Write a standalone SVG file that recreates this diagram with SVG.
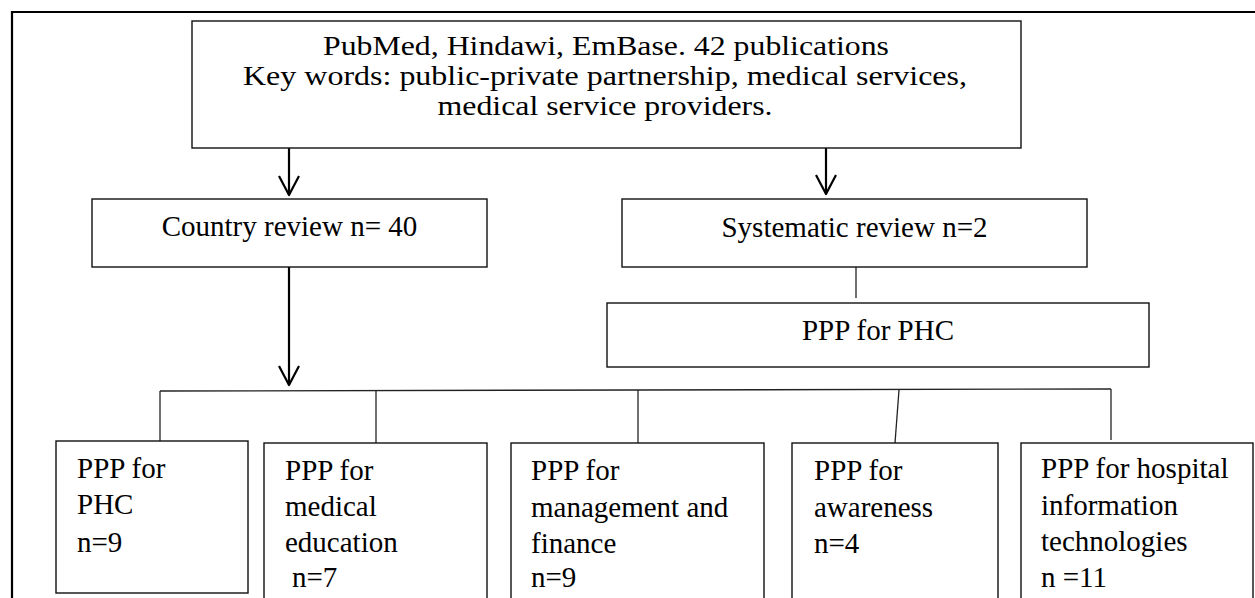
<svg xmlns="http://www.w3.org/2000/svg" width="1255" height="598" viewBox="0 0 1255 598">
  <defs>
    <style>
      .frame { fill: none; stroke: #000; stroke-width: 2.2; }
      .box { fill: #fff; stroke: #111; stroke-width: 1.4; }
      .arrow { fill: none; stroke: #000; stroke-width: 2.2; }
      .link { fill: none; stroke: #222; stroke-width: 1.3; }
      text { font-family: "Liberation Serif", "Times New Roman", serif; fill: #000; }
      .t26 { font-size: 26.5px; }
      .t29 { font-size: 29px; }
      .mid { text-anchor: middle; }
    </style>
    <!-- open V arrowhead; the tip sits on the end of the line -->
    <marker id="vhead" markerUnits="userSpaceOnUse" markerWidth="26" markerHeight="26"
            viewBox="-22 -13 26 26" refX="0" refY="0" orient="auto" overflow="visible">
      <path d="M-19,-10 L0,0 L-19,10" fill="none" stroke="#000" stroke-width="2.2" stroke-linejoin="round"/>
    </marker>
  </defs>

  <!-- outer frame (left and top edges) -->
  <path class="frame" d="M12,598 V12 H1255"/>

  <!-- connectors -->
  <g id="connectors">
    <line class="arrow" x1="289" y1="148" x2="289" y2="195" marker-end="url(#vhead)"/>
    <line class="arrow" x1="826" y1="148" x2="826" y2="194" marker-end="url(#vhead)"/>
    <line class="arrow" x1="289" y1="267" x2="289" y2="385" marker-end="url(#vhead)"/>
    <line class="link" x1="856" y1="267" x2="856" y2="298"/>
    <line class="link" x1="160" y1="391" x2="1111" y2="389"/>
    <line class="link" x1="160" y1="391" x2="160" y2="441"/>
    <line class="link" x1="376" y1="391" x2="376" y2="443"/>
    <line class="link" x1="638" y1="390" x2="638" y2="443"/>
    <line class="link" x1="899" y1="390" x2="895" y2="443"/>
    <line class="link" x1="1111" y1="389" x2="1111" y2="440"/>
  </g>

  <!-- search sources -->
  <g id="sources">
    <rect class="box" x="192" y="21" width="829" height="127"/>
    <text class="t26 mid" x="606" y="55" textLength="566" lengthAdjust="spacingAndGlyphs">PubMed, Hindawi, EmBase. 42 publications</text>
    <text class="t26 mid" x="605" y="85" textLength="724" lengthAdjust="spacingAndGlyphs">Key words: public-private partnership, medical services,</text>
    <text class="t26 mid" x="605" y="115" textLength="335" lengthAdjust="spacingAndGlyphs">medical service providers.</text>
  </g>

  <g id="country-review">
    <rect class="box" x="92" y="199" width="395" height="68"/>
    <text class="t29 mid" x="289.5" y="236">Country review n= 40</text>
  </g>

  <g id="systematic-review">
    <rect class="box" x="622" y="199" width="465" height="68"/>
    <text class="t29 mid" x="854.5" y="237">Systematic review n=2</text>
  </g>

  <g id="sr-phc">
    <rect class="box" x="607" y="303" width="542" height="64"/>
    <text class="t29 mid" x="878" y="340">PPP for PHC</text>
  </g>

  <g id="cr-phc">
    <rect class="box" x="56" y="441" width="192" height="152"/>
    <text class="t29" x="77" y="478">PPP for</text>
    <text class="t29" x="77" y="514">PHC</text>
    <text class="t29" x="77" y="552">n=9</text>
  </g>

  <g id="cr-education">
    <rect class="box" x="264" y="443" width="223" height="160"/>
    <text class="t29" x="285" y="480">PPP for</text>
    <text class="t29" x="285" y="516">medical</text>
    <text class="t29" x="285" y="552">education</text>
    <text class="t29" x="292" y="587">n=7</text>
  </g>

  <g id="cr-management">
    <rect class="box" x="511" y="443" width="253" height="160"/>
    <text class="t29" x="531" y="480">PPP for</text>
    <text class="t29" x="531" y="517">management and</text>
    <text class="t29" x="531" y="553">finance</text>
    <text class="t29" x="531" y="587">n=9</text>
  </g>

  <g id="cr-awareness">
    <rect class="box" x="792" y="443" width="206" height="160"/>
    <text class="t29" x="814" y="480">PPP for</text>
    <text class="t29" x="814" y="517">awareness</text>
    <text class="t29" x="814" y="553">n=4</text>
  </g>

  <g id="cr-hit">
    <rect class="box" x="1021" y="443" width="232" height="160"/>
    <text class="t29" x="1041" y="478">PPP for hospital</text>
    <text class="t29" x="1041" y="515">information</text>
    <text class="t29" x="1041" y="551">technologies</text>
    <text class="t29" x="1041" y="587">n =11</text>
  </g>
</svg>
